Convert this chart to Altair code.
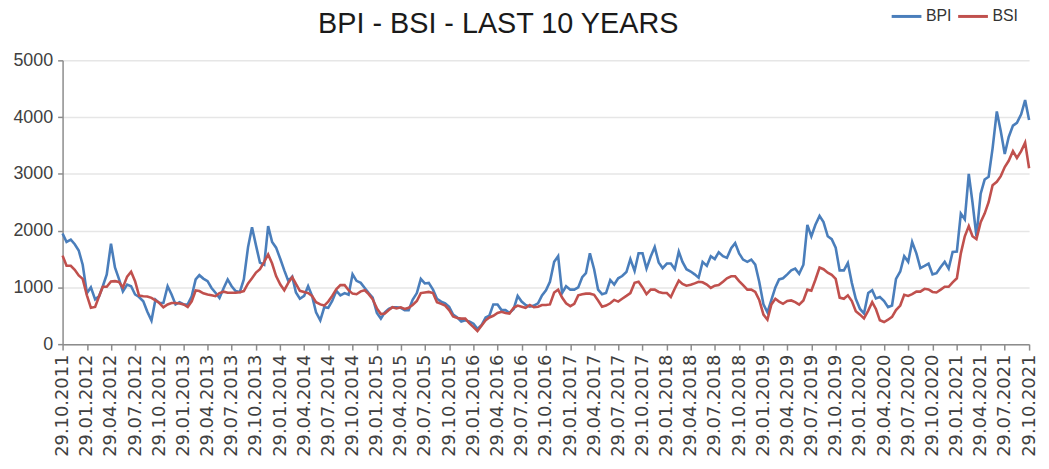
import altair as alt
import pandas as pd

# semi-monthly readings starting 29.10.2011 (step = half a month)
bpi = [
    1950, 1800, 1840, 1760, 1650, 1400, 900, 1000, 790,
    845, 1020, 1230, 1770, 1350, 1150, 930, 1050,
    1020, 875, 830, 755, 575, 415, 785, 725,
    725, 1020, 875, 700, 740, 700, 700, 845,
    1140, 1215, 1155, 1110, 990, 905, 815, 990,
    1140, 1020, 935, 920, 1140, 1710, 2060, 1740,
    1435, 1400, 2080, 1800, 1700, 1500, 1300, 1115,
    1190, 910, 800, 850, 1020, 850, 560, 420,
    650, 640, 760, 940, 860, 900, 870, 1230,
    1115, 1080, 990, 900, 820, 550, 450, 560,
    620, 650, 650, 640, 600, 600, 780, 900,
    1150, 1070, 1080, 960, 800, 750, 720, 660,
    520, 470, 400, 420, 400, 360, 270, 340,
    470, 500, 700, 700, 600, 600, 550, 620,
    850, 750, 690, 660, 680, 720, 860, 950,
    1100, 1450, 1550, 900, 1020, 960, 960, 1000,
    1180, 1250, 1600, 1320, 960, 880, 900, 1130,
    1050, 1160, 1200, 1270, 1500, 1290, 1600, 1600,
    1330, 1545, 1710, 1440, 1340, 1420, 1420, 1320,
    1630, 1450, 1320, 1280, 1230, 1170, 1450, 1380,
    1550, 1500, 1620, 1550, 1520, 1690, 1780, 1600,
    1490, 1450, 1490, 1400, 1100, 700, 560, 780,
    1000, 1140, 1160, 1230, 1300, 1330, 1240, 1400,
    2100, 1900, 2100, 2260, 2150, 1900, 1850, 1700,
    1300, 1300, 1430, 1080, 800, 620, 540, 900,
    950, 805, 830, 760, 650, 680, 1150, 1280,
    1550, 1450, 1800, 1600, 1340, 1380, 1420, 1230,
    1250, 1360, 1450, 1330, 1625, 1630, 2300, 2200,
    3000, 2500, 1900, 2650, 2900, 2950, 3450, 4100,
    3750, 3350, 3650, 3850, 3900, 4050, 4300, 3950,
]

bsi = [
    1560, 1380, 1380, 1310, 1210, 1150, 860, 640, 655,
    845, 1010, 1010, 1105, 1110, 1095, 1000, 1190,
    1275, 1110, 855, 845, 840, 815, 770, 725,
    650, 700, 725, 725, 715, 700, 655, 755,
    945, 935, 895, 875, 860, 845, 900, 925,
    905, 905, 905, 915, 935, 1070, 1160, 1260,
    1320, 1450, 1580, 1420, 1200, 1050, 950, 1080,
    1180, 1060, 940, 920, 900, 850, 740, 700,
    680, 750, 850, 970, 1040, 1040, 950, 890,
    880, 930, 950, 880, 790, 630, 530, 540,
    600, 650, 630, 650, 620, 640, 690, 760,
    900, 910, 920, 900, 740, 710, 680, 600,
    490, 460, 450, 450, 370, 300, 230, 330,
    420, 470, 500, 550, 570, 550, 540, 640,
    680, 660, 640, 690, 650, 660, 690, 690,
    700, 910, 960, 820, 720, 670, 710, 860,
    880, 890, 890, 870, 770, 660, 680, 720,
    780, 750, 800, 850, 900, 1080, 1100, 1000,
    880, 960, 960, 920, 900, 900, 830, 980,
    1120, 1060, 1030, 1045, 1070, 1100, 1090, 1050,
    990, 1030, 1040, 1100, 1160, 1195, 1195, 1110,
    1040, 960, 960, 920, 780, 520, 430, 700,
    800, 750, 710, 760, 770, 740, 695, 770,
    960, 940, 1130, 1350, 1320, 1260, 1220, 1150,
    820, 800, 860, 760, 580, 520, 455, 590,
    740, 620, 420, 390, 430, 480, 600, 680,
    870, 850, 880, 925, 925, 975, 965, 920,
    910, 960, 1010, 1010, 1090, 1160, 1600, 1900,
    2080, 1900, 1850, 2150, 2300, 2500, 2800, 2860,
    2960, 3120, 3230, 3400, 3280, 3400, 3550, 3100,
]

series_names = ["BPI", "BSI"]
series_colors = ["#4A7EBB", "#C0504D"]
y_ticks = [0, 1000, 2000, 3000, 4000, 5000]

start = pd.Timestamp("2011-10-29")
dates = []
for k in range(len(bpi)):
    d = start + pd.DateOffset(months=k // 2)
    if k % 2:
        d = d + pd.Timedelta(days=15)
    dates.append(d.strftime("%Y-%m-%dT%H:%M:%S"))

rows = []
for d, v in zip(dates, bpi):
    rows.append({"date": d, "series": "BPI", "value": v})
for d, v in zip(dates, bsi):
    rows.append({"date": d, "series": "BSI", "value": v})
df = pd.DataFrame(rows)

tick_dates = []
for q in range(41):
    t = start + pd.DateOffset(months=3 * q)
    tick_dates.append(alt.DateTime(year=t.year, month=t.month, date=29))

chart = (
    alt.Chart(df)
    .mark_line(strokeWidth=2.6)
    .encode(
        x=alt.X(
            "date:T",
            scale=alt.Scale(
                domain=[alt.DateTime(year=2011, month=10, date=29),
                        alt.DateTime(year=2021, month=10, date=29)],
                nice=False,
            ),
            axis=alt.Axis(
                title=None,
                values=tick_dates,
                format="%d.%m.%Y",
                labelAngle=-90,
                labelAlign="right",
                labelBaseline="middle",
                labelFont="DejaVu Sans",
                labelFontSize=18,
                labelColor="#404040",
                labelPadding=4,
                labelOverlap=False,
                labelFlush=False,
                grid=False,
                domainColor="#8c8c8c",
                domainWidth=1.5,
                tickColor="#8c8c8c",
                tickWidth=1.5,
                tickSize=6,
            ),
        ),
        y=alt.Y(
            "value:Q",
            scale=alt.Scale(domain=[0, 5000], nice=False),
            axis=alt.Axis(
                title=None,
                values=y_ticks,
                format="d",
                labelFont="Liberation Sans",
                labelFontSize=18,
                labelColor="#404040",
                labelPadding=5,
                grid=True,
                gridColor="#e6e6e6",
                gridWidth=1.5,
                domainColor="#8c8c8c",
                domainWidth=1.5,
                tickColor="#8c8c8c",
                tickWidth=1.5,
                tickSize=5,
            ),
        ),
        color=alt.Color(
            "series:N",
            scale=alt.Scale(domain=series_names, range=series_colors),
            legend=alt.Legend(
                title=None,
                orient="none",
                legendX=834,
                legendY=-61,
                direction="horizontal",
                symbolType="stroke",
                symbolStrokeWidth=3,
                symbolSize=900,
                labelFont="Liberation Sans",
                labelFontSize=16,
                labelColor="#333333",
                columnPadding=0,
                labelOffset=3,
            ),
        ),
    )
    .properties(
        width=974,
        height=286,
        padding={"left": 55, "top": 51, "right": 12, "bottom": 116},
        autosize=alt.AutoSizeParams(type="none"),
        title=alt.TitleParams(
            text="BPI - BSI - LAST 10 YEARS",
            font="Liberation Sans",
            fontSize=29,
            fontWeight="normal",
            color="#1a1a1a",
            anchor="middle",
            frame="group",
            dx=-48,
            dy=45,
            offset=6,
        ),
    )
    .configure_view(stroke=None)
)

chart.save("out.html", embed_options={"renderer": "svg", "actions": False})
